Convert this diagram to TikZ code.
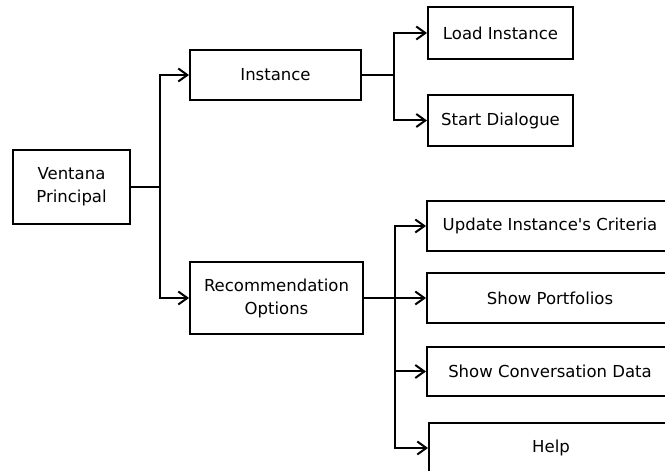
\documentclass[tikz,border=0pt]{standalone}
\usepackage{fontspec}
\newfontfamily\dvfont{DejaVu Sans}
\usetikzlibrary{arrows.meta}
\begin{document}
\begin{tikzpicture}[x=1pt,y=1pt,
  box/.style={draw=black,line width=2pt,fill=white,inner sep=0pt,align=center,
    font=\dvfont\fontsize{16.5}{23}\selectfont},
  conn/.style={line width=2pt,draw=black},
  arr/.style={conn,-{Straight Barb[length=9pt,width=13pt]}}]
\useasboundingbox (0,0) rectangle (665,471);
% nodes (y measured from top: y' = 471 - y)
\node[box,minimum width=117pt,minimum height=74pt] (vp) at (71.5,284) {Ventana\\Principal};
\node[box,minimum width=171pt,minimum height=50pt] (inst) at (275.5,396) {Instance};
\node[box,minimum width=173pt,minimum height=72pt] (rec) at (276.5,173) {Recommendation\\Options};
\node[box,minimum width=145pt,minimum height=52pt] (load) at (500.5,438) {Load Instance};
\node[box,minimum width=145pt,minimum height=51pt] (start) at (500.5,350.5) {Start Dialogue};
\node[box,minimum width=246pt,minimum height=50pt] (upd) at (550,245) {Update Instance's Criteria};
\node[box,minimum width=246pt,minimum height=50pt] (port) at (550,173) {Show Portfolios};
\node[box,minimum width=246pt,minimum height=49pt] (conv) at (550,99.5) {Show Conversation Data};
\node[box,minimum width=244pt,minimum height=50pt] (help) at (551,23) {Help};
% junctions
\coordinate (j1) at (160,284);
\coordinate (j2) at (394,396);
\coordinate (j3) at (395,173);
% connectors
\draw[conn] (vp.east) -- (j1);
\draw[arr] (j1) |- (inst.west);
\draw[arr] (j1) |- (rec.west);
\draw[conn] (inst.east) -- (j2);
\draw[arr] (j2) |- (load.west);
\draw[arr] (j2) |- (start.west);
\draw[conn] (rec.east) -- (j3);
\draw[arr] (j3) |- (upd.west);
\draw[arr] (j3) -- (port.west);
\draw[arr] (j3) |- (conv.west);
\draw[arr] (j3) |- (help.west);
\end{tikzpicture}
\end{document}
